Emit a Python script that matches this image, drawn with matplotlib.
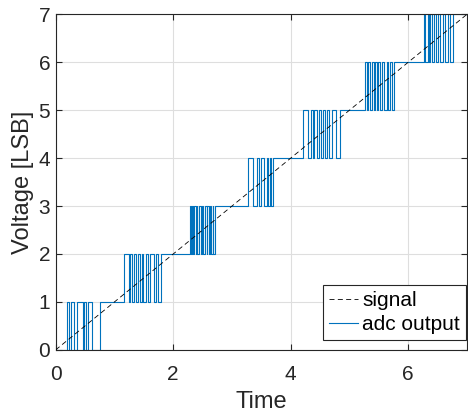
import numpy as np
import matplotlib.pyplot as plt

plt.rcParams['font.family'] = ['Liberation Sans', 'DejaVu Sans']
plt.rcParams['lines.scale_dashes'] = False

# ideal input ramp
signal_t = [0, 7]
signal_v = [0, 7]

# toggle times of the adc output around each code transition
toggles = [
    [0.20, 0.23, 0.26, 0.31, 0.37, 0.46, 0.49, 0.51, 0.55, 0.62, 0.75],
    [1.16, 1.25, 1.27, 1.30, 1.33, 1.36, 1.40, 1.43, 1.47, 1.49, 1.53,
     1.57, 1.60, 1.67, 1.70, 1.74, 1.80],
    [2.28, 2.30, 2.32, 2.34, 2.36, 2.38, 2.40, 2.41, 2.44, 2.47, 2.49,
     2.51, 2.54, 2.57, 2.58, 2.61, 2.62, 2.65, 2.67, 2.68, 2.71],
    [3.28, 3.36, 3.43, 3.46, 3.50, 3.54, 3.59, 3.62, 3.65, 3.67, 3.69],
    [4.21, 4.30, 4.34, 4.37, 4.40, 4.44, 4.48, 4.52, 4.55, 4.59, 4.62,
     4.65, 4.70, 4.77, 4.84],
    [5.26, 5.29, 5.32, 5.35, 5.38, 5.41, 5.43, 5.47, 5.49, 5.52, 5.55,
     5.58, 5.63, 5.66, 5.69, 5.72, 5.76],
    [6.26, 6.29, 6.33, 6.35, 6.37, 6.40, 6.43, 6.47, 6.51, 6.54, 6.59,
     6.63, 6.67, 6.71, 6.76],
]
codes = [0, 1, 2, 3, 4, 5, 6, 7]

# build step series from the toggles
adc_t = [0.0]
adc_v = [codes[0]]
for k, tl in enumerate(toggles):
    lo, hi = codes[k], codes[k + 1]
    cur = lo
    for t in tl:
        cur = hi if cur == lo else lo
        adc_t.append(t)
        adc_v.append(cur)
adc_t.append(7.0)
adc_v.append(adc_v[-1])

fig = plt.figure(figsize=(4.68, 4.19), dpi=100)
ax = fig.add_axes([0.119, 0.165, 0.879, 0.801])

h_adc, = ax.step(adc_t, adc_v, where='post', color='#0072BD', lw=0.8,
                 label='adc output', zorder=2)
h_sig, = ax.plot(signal_t, signal_v, color='black', lw=0.6,
                 linestyle=(0, (3.6, 2.4)), label='signal', zorder=3)

ax.set_xlim(0, 7)
ax.set_ylim(0, 7)
ax.set_xticks([0, 2, 4, 6])
ax.set_yticks(range(0, 8))
ax.grid(True, color='#dedede', lw=0.8)
ax.set_axisbelow(True)
ax.tick_params(direction='in', labelsize=15, colors='#262626', length=4,
               top=True, right=True, labelcolor='#262626')
ax.tick_params(axis='x', pad=11)
ax.tick_params(axis='y', pad=4)
for s in ax.spines.values():
    s.set_color('#262626')
    s.set_linewidth(0.8)
ax.set_xlabel('Time', fontsize=17, color='#262626', labelpad=5)
ax.set_ylabel('Voltage [LSB]', fontsize=17, color='#262626', labelpad=3)

leg = ax.legend([h_sig, h_adc], ['signal', 'adc output'],
                loc='lower right', bbox_to_anchor=(0.998, 0.028), fontsize=15,
                fancybox=False, framealpha=1, edgecolor='#262626',
                borderpad=0.3, handlelength=1.4, handletextpad=0.2,
                labelspacing=0.25, borderaxespad=0.0)
leg.get_frame().set_linewidth(0.8)

fig.savefig('out.png', dpi=100)
